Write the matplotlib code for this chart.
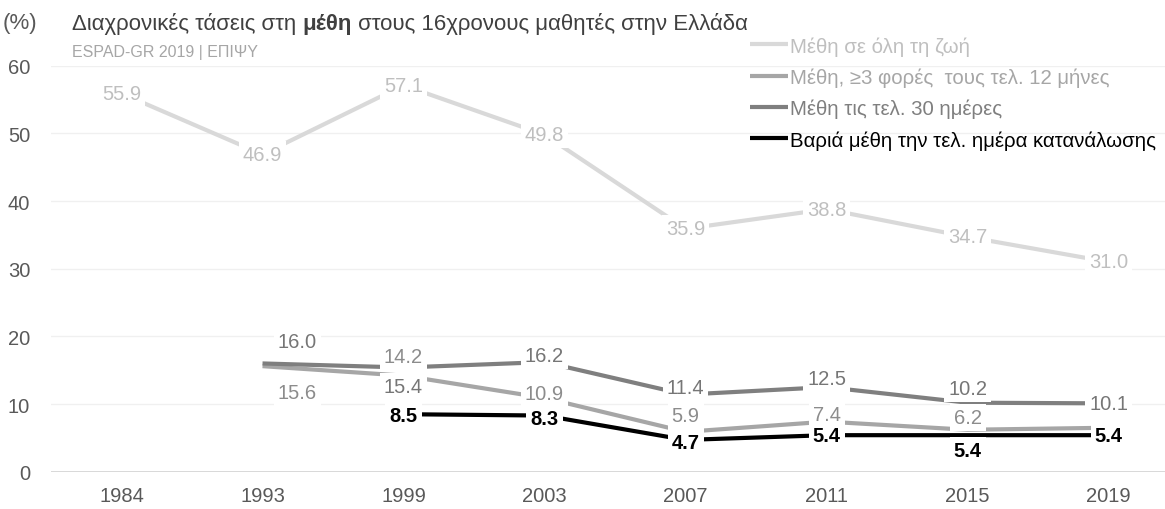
import matplotlib
matplotlib.use("Agg")
import matplotlib.pyplot as plt
import numpy as np

plt.rcParams['font.family'] = ['Liberation Sans', 'DejaVu Sans']

years = ['1984', '1993', '1999', '2003', '2007', '2011', '2015', '2019']

lifetime = [55.9, 46.9, 57.1, 49.8, 35.9, 38.8, 34.7, 31.0]
times3_12m = [np.nan, 15.6, 14.2, 10.9, 5.9, 7.4, 6.2, 6.5]
last30d = [np.nan, 16.0, 15.4, 16.2, 11.4, 12.5, 10.2, 10.1]
heavy_lastday = [np.nan, np.nan, 8.5, 8.3, 4.7, 5.4, 5.4, 5.4]

names = ['Μέθη σε όλη τη ζωή',
         'Μέθη, ≥3 φορές  τους τελ. 12 μήνες',
         'Μέθη τις τελ. 30 ημέρες',
         'Βαριά μέθη την τελ. ημέρα κατανάλωσης']

fig = plt.figure(figsize=(11.65, 5.1), dpi=100)
ax = fig.add_axes([51 / 1165, 0.0731, 1 - 51 / 1165, 0.7961])

x = np.arange(len(years))
line_cols = ['#d9d9d9', '#a6a6a6', '#7f7f7f', '#000000']
text_cols = ['#bfbfbf', '#8c8c8c', '#767676', '#000000']
series = [lifetime, times3_12m, last30d, heavy_lastday]

handles = []
for vals, lc, nm in zip(series, line_cols, names):
    h, = ax.plot(x, vals, color=lc, lw=3, solid_capstyle='butt', label=nm, zorder=2)
    handles.append(h)

# label offsets (points) per point, None = no label
offsets = [
    [(0, 0)] * 8,
    [None, (25, -19), (0, 14), (0, 3), (0, 12), (0, 5), (0, 9), None],
    [None, (25, 16), (0, -14), (0, 5), (0, 5), (0, 6), (0, 10), (0, 0)],
    [None, None, (0, -1), (0, -2), (0, -2), (0, 0), (0, -11), (0, 0)],
]
for k, (vals, tc) in enumerate(zip(series, text_cols)):
    for i, v in enumerate(vals):
        off = offsets[k][i]
        if off is None or np.isnan(v):
            continue
        ax.annotate(f'{v:.1f}', (x[i], v), xytext=off, textcoords='offset points',
                    ha='center', va='center', fontsize=14.5, color=tc,
                    fontweight='bold' if k == 3 else 'normal',
                    bbox=dict(boxstyle='square,pad=0.2', fc='white', ec='none'),
                    zorder=5)

ax.set_xlim(-0.5, 7.4)
ax.set_ylim(0, 60)
ax.set_yticks(range(0, 61, 10))
ax.set_xticks(x)
ax.set_xticklabels(years)
ax.tick_params(length=0, labelsize=14.5, colors='#595959')
ax.tick_params(axis='y', pad=15)
ax.tick_params(axis='x', pad=10)
for s in ax.spines.values():
    s.set_visible(False)
ax.grid(axis='y', color='#f0f0f0', lw=1)
ax.axhline(0, color='#d9d9d9', lw=1.4, zorder=1)
ax.set_axisbelow(True)

leg = ax.legend(handles=handles, loc='upper left', bbox_to_anchor=(750 / 1165, 1 - 37 / 510),
                bbox_transform=fig.transFigure, frameon=False, fontsize=14.7,
                handlelength=1.85, handletextpad=0.1, labelspacing=0.58,
                borderpad=0, borderaxespad=0)
for t, c in zip(leg.get_texts(), ['#bfbfbf', '#a6a6a6', '#7f7f7f', '#000000']):
    t.set_color(c)

fig.text(3 / 1165, 1 - 24 / 510, '(%)', fontsize=16, color='#595959', va='center')
t1 = fig.text(72 / 1165, 1 - 24 / 510, 'Διαχρονικές τάσεις στη ', fontsize=16,
              color='#404040', va='center')
t2 = ax.annotate('μέθη', xy=(1, 0), xycoords=t1, va='bottom', ha='left',
                 fontsize=16, color='#404040', fontweight='bold', annotation_clip=False)
ax.annotate(' στους 16χρονους μαθητές στην Ελλάδα', xy=(1, 0), xycoords=t2,
            va='bottom', ha='left', fontsize=16, color='#404040', annotation_clip=False)
fig.text(72 / 1165, 1 - 53 / 510, 'ESPAD-GR 2019 | ΕΠΙΨΥ', fontsize=11.5,
         color='#a6a6a6', va='center')

fig.savefig('out.png', dpi=100)
